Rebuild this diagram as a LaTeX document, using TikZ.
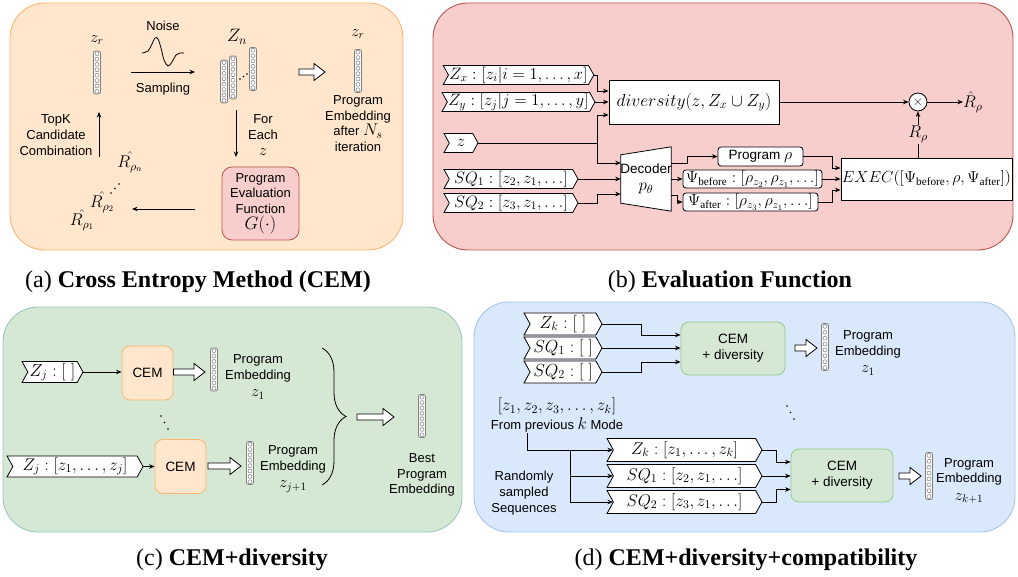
\RequirePackage{fix-cm}
\documentclass[tikz,border=0pt]{standalone}
\usepackage{fontspec}
\setmainfont{Liberation Serif}
\setsansfont{Liberation Sans}
\usetikzlibrary{shapes.symbols,arrows.meta,calc,decorations.pathreplacing}
\definecolor{orF}{HTML}{FFE6CC}
\definecolor{orD}{HTML}{FFB570}
\definecolor{pkF}{HTML}{F8CECC}
\definecolor{pkD}{HTML}{B85450}
\definecolor{gnF}{HTML}{D5E8D4}
\definecolor{gnD}{HTML}{9AC7BF}
\definecolor{gnD2}{HTML}{97C98A}
\definecolor{blF}{HTML}{DAE8FC}
\definecolor{blD}{HTML}{A9C4EB}
\definecolor{vecD}{HTML}{7F7F7F}
\newcommand\harrow[2]{%
 \draw[fill=white, line width=0.8pt] ($(#1)+(0,-3)$) -- ($(#2)+(-11,-3)$) -- ($(#2)+(-11,-8.5)$) -- (#2) -- ($(#2)+(-11,8.5)$) -- ($(#2)+(-11,3)$) -- ($(#1)+(0,3)$) -- cycle;}
\newcommand\fs[1]{\fontsize{#1}{#1}\selectfont}
\begin{document}
\begin{tikzpicture}[x=1pt,y=-1pt,
 vec/.style={draw=vecD, fill=white, rounded corners=2pt, minimum width=7pt, minimum height=#1, inner sep=0pt, line width=0.8pt,
   path picture={\foreach \k in {0,...,7}{\draw[vecD, line width=0.5pt, fill=white] ($(path picture bounding box.north)!{(\k+0.5)/8}!(path picture bounding box.south)$) circle (2.0pt);}}},
 vec/.default=43pt,
 lbl/.style={font=\sffamily\fontsize{13}{15.7}\selectfont, align=center, inner sep=0pt},
 mth/.style={font=\fontsize{16}{16}\selectfont, inner sep=0pt},
 arr/.style={-{Stealth[length=5.5pt,width=4.5pt]}, line width=0.8pt},
 ln/.style={line width=0.8pt},
 tag/.style={signal, signal to=east, signal from=west, signal pointer angle=122, draw, fill=white, line width=0.8pt, inner sep=1pt, minimum height=#1},
 tag/.default=19pt,
 wbox/.style={draw, fill=white, line width=0.8pt, inner sep=2pt},
 cem/.style={draw=orD, fill=orF, rounded corners=8pt, line width=0.8pt, minimum width=51pt, minimum height=54pt, font=\sffamily\fontsize{13.5}{16}\selectfont},
 cemd/.style={draw=gnD2, fill=gnF, rounded corners=8pt, line width=0.8pt, minimum width=104pt, minimum height=53pt, font=\sffamily\fontsize{13.5}{16}\selectfont, align=center},
 panel/.style 2 args={draw=#2, fill=#1, rounded corners=35pt, line width=0.9pt},
 captxt/.style={font=\fontsize{24}{26}\selectfont, inner sep=0pt}
]
\useasboundingbox (0,0) rectangle (1018,577);

% ---------------- panel (a)
\draw[panel={orF}{orD}] (10,3) rectangle (403,250);
\node[vec] (va) at (97,72.5) {};
\node[mth] (zra) at (97,40) {$z_r$};
\node[lbl] (noise) at (163,26) {Noise};
\draw[ln] plot[smooth, tension=0.6] coordinates {(142,53) (148,51) (152,44) (155,38) (158,39) (161,48) (164,60) (168,66) (172,62) (176,55) (180,53) (184,53)};
\coordinate (sA) at (131,72); \coordinate (sB) at (195,72);
\draw[arr] (sA) -- (sB);
\node[lbl] (samp) at (163,89) {Sampling};
\node[mth, font=\fs{18}] (zn) at (237,37) {$Z_n$};
\node[vec] (vn1) at (224,81.5) {};
\node[vec] (vn2) at (233,77.5) {};
\node[vec] (vn3) at (253,69) {};
\fill (240,79) circle (0.8pt) (243.5,76.5) circle (0.8pt) (247,74) circle (0.8pt);
\coordinate (hA) at (299,72); \coordinate (hB) at (325,72);
\harrow{hA}{hB}
\node[vec] (vr) at (358,71) {};
\node[mth] (zrb) at (358,34) {$z_r$};
\node[lbl] (peafter) at (358,123.5) {Program\\Embedding\\after {\fs{17}$N_s$}\\iteration};
\coordinate (fA) at (236,110); \coordinate (fB) at (236,157);
\draw[arr] (fA) -- (fB);
\node[lbl] (foreach) at (263,135) {For\\Each\\{\fs{16}$z$}};
\node[draw=pkD, fill=pkF, rounded corners=10pt, minimum width=77pt, minimum height=73pt, line width=0.8pt, lbl] (pef) at (260.5,203.5) {Program\\Evaluation\\Function\\{\fs{18}$G(\cdot)$}};
\coordinate (rA) at (195,209); \coordinate (rB) at (132,209);
\draw[arr] (rA) -- (rB);
\node[mth, font=\fs{17}] (r1) at (82,220) {$\hat{R_{\rho_1}}$};
\node[mth, font=\fs{17}] (r2) at (102,202) {$\hat{R_{\rho_2}}$};
\node[mth, font=\fs{17}] (rn) at (130,162) {$\hat{R_{\rho_n}}$};
\fill (111,193) circle (0.8pt) (115,188.5) circle (0.8pt) (119,184) circle (0.8pt);
\coordinate (uA) at (99,157); \coordinate (uB) at (99,112);
\draw[arr] (uA) -- (uB);
\node[lbl] (topk) at (56,135) {TopK\\Candidate\\Combination};
\node[captxt] (capa) at (198,282) {(a) \textbf{Cross Entropy Method (CEM)}};

% ---------------- panel (b)
\draw[panel={pkF}{pkD}] (433,3) rectangle (1013,250);
\node[tag, minimum width=149pt, font=\fs{16.5}] (zx) at (518.5,75) {$Z_x : [z_i|i=1,\dots,x]$};
\node[tag, minimum width=149pt, font=\fs{16.5}] (zy) at (518.5,102) {$Z_y : [z_j|j=1,\dots,y]$};
\node[tag, minimum width=34pt, font=\fs{16.5}] (zz) at (461,143) {$z$};
\node[tag, minimum width=134pt, font=\fs{16.5}] (sq1) at (511,179) {$SQ_1 : [z_2,z_1,\dots]$};
\node[tag, minimum width=134pt, font=\fs{16.5}] (sq2) at (511,203) {$SQ_2 : [z_3,z_1,\dots]$};
\node[wbox, minimum width=170pt, minimum height=44pt, font=\fs{17.5}] (div) at (694,102) {$diversity(z, Z_x\cup Z_y)$};
\node[draw, fill=white, circle, line width=0.8pt, minimum size=18pt, inner sep=0pt, font=\fs{13}] (mul) at (918,102) {$\times$};
\node[mth, font=\fs{17}, anchor=west] (rhat) at (963,102) {$\hat{R}_\rho$};
\node[minimum width=50pt, minimum height=64pt, inner sep=0pt] (dec) at (646,179) {};
\draw[ln, fill=white] ($(dec.north west)+(0,8)$) -- (dec.north east) -- (dec.south east) -- ($(dec.south west)+(0,-8)$) -- cycle;
\node[lbl, font=\sffamily\fs{13.5}] (dect) at (dec) {Decoder\\[3pt]{\fs{17}$p_\theta$}};
\node[wbox, rounded corners=3pt, minimum width=85pt, minimum height=19pt, font=\sffamily\fs{13.5}] (prog) at (760.5,156.5) {Program {\fs{16}$\rho$}};
\node[wbox, rounded corners=3pt, minimum width=139pt, minimum height=18pt, inner sep=1pt, font=\fs{16}] (psib) at (752.5,179) {$\Psi_{\mathrm{before}} : [\rho_{z_2},\rho_{z_1},\dots]$};
\node[wbox, rounded corners=3pt, minimum width=135pt, minimum height=18pt, inner sep=1pt, font=\fs{16}] (psia) at (750.5,202) {$\Psi_{\mathrm{after}} : [\rho_{z_3},\rho_{z_1},\dots]$};
\node[wbox, minimum width=169pt, minimum height=42pt, inner sep=1pt, font=\fs{16}] (exec) at (926.5,179) {$EXEC([\Psi_{\mathrm{before}},\rho,\Psi_{\mathrm{after}}])$};
\coordinate (jx) at (597,75);
\coordinate (jz) at (597,143);
\coordinate (js) at (597,203);
\draw[arr] (zx.east) -- (jx) |- ($(div.west)+(0,-11)$);
\draw[arr] (zy.east) -- (div.west);
\draw[ln] (zz.east) -- (jz);
\draw[arr] (jz) |- ($(div.west)+(0,13)$);
\draw[arr] (jz) |- ($(dec.west)+(0,-16)$);
\draw[arr] (sq1.east) -- (sq1.east -| dec.west);
\draw[arr] (sq2.east) -- (js) |- ($(dec.west)+(0,15)$);
\coordinate (d1) at (687,163);
\coordinate (d3) at (677,195);
\draw[arr] ($(dec.east)+(0,-16)$) -- (d1) |- (prog.west);
\draw[arr] (dec.east |- psib.west) -- (psib.west);
\draw[arr] ($(dec.east)+(0,16)$) -- (d3) |- (psia.west);
\coordinate (e1) at (832,156.5);
\coordinate (e3) at (832,202);
\draw[arr] (prog.east) -- (e1) |- ($(exec.west)+(0,-11)$);
\draw[arr] (psib.east) -- (exec.west |- psib.east);
\draw[arr] (psia.east) -- (e3) |- ($(exec.west)+(0,11)$);
\draw[arr] (div.east) -- (mul.west);
\draw[arr] (mul.east) -- (rhat.west);
\draw[arr] (exec.north -| mul.south) -- node[fill=pkF, inner sep=1pt, font=\fs{17}] (rrho) {$R_\rho$} (mul.south);
\node[captxt] (capb) at (730,282) {(b) \textbf{Evaluation Function}};

% ---------------- panel (c)
\draw[panel={gnF}{gnD}] (3,307) rectangle (462,532);
\node[tag, minimum width=61pt, minimum height=21pt, font=\fs{17.5}] (zj1) at (52.5,372) {$Z_j : [\;]$};
\node[cem] (cem1) at (147.5,373) {CEM};
\draw[arr] (zj1.east) -- (cem1.west |- zj1.east);
\coordinate (c1a) at (173.5,372); \coordinate (c1b) at (205,372);
\harrow{c1a}{c1b}
\node[vec] (vc1) at (214,369.5) {};
\node[lbl] (pe1) at (258,377) {Program\\Embedding\\[2pt]{\fs{16}$z_1$}};
\fill (161,416) circle (0.8pt) (164.5,422.5) circle (0.8pt) (168,429) circle (0.8pt);
\node[tag, minimum width=136pt, minimum height=21pt, font=\fs{17}] (zj2) at (75,466.5) {$Z_j : [z_1,\dots,z_j]$};
\node[cem] (cem2) at (180.5,466.5) {CEM};
\draw[arr] (zj2.east) -- (cem2.west |- zj2.east);
\coordinate (c2a) at (208,466); \coordinate (c2b) at (241,466);
\harrow{c2a}{c2b}
\node[vec] (vc2) at (250,463) {};
\node[lbl] (pe2) at (293,469) {Program\\Embedding\\[2pt]{\fs{16}$z_{j+1}$}};
\coordinate (brT) at (322,348); \coordinate (brB) at (322,485);
\draw[ln, decorate, decoration={brace, amplitude=24pt}] (brT) -- (brB);
\coordinate (c3a) at (357,417); \coordinate (c3b) at (394,417);
\harrow{c3a}{c3b}
\node[vec] (vbest) at (422,416) {};
\node[lbl] (best) at (422,475) {Best\\Program\\Embedding};
\node[captxt] (capc) at (232,560) {(c) \textbf{CEM+diversity}};

% ---------------- panel (d)
\draw[panel={blF}{blD}] (474,302) rectangle (1015,532);
\node[tag, minimum width=78pt, minimum height=22pt, font=\fs{17.5}] (zk1) at (563,324) {$Z_k : [\;]$};
\node[tag, minimum width=78pt, minimum height=22pt, font=\fs{17.5}] (sqa1) at (563,348) {$SQ_1 : [\;]$};
\node[tag, minimum width=78pt, minimum height=22pt, font=\fs{17.5}] (sqa2) at (563,372) {$SQ_2 : [\;]$};
\node[cemd] (cd1) at (733,348.5) {CEM\\+ diversity};
\coordinate (k1) at (641,324); \coordinate (k3) at (641,372);
\draw[arr] (zk1.east) -- (k1) |- ($(cd1.west)+(0,-13.5)$);
\draw[arr] (sqa1.east) -- (cd1.west |- sqa1.east);
\draw[arr] (sqa2.east) -- (k3) |- ($(cd1.west)+(0,13.5)$);
\coordinate (d1a) at (795,348); \coordinate (d1b) at (817,348);
\harrow{d1a}{d1b}
\node[vec=47pt] (vd1) at (825,347) {};
\node[lbl] (pd1) at (868,353) {Program\\Embedding\\[2pt]{\fs{16}$z_1$}};
\fill (787,406) circle (0.8pt) (790.5,412.5) circle (0.8pt) (794,419) circle (0.8pt);
\node[lbl, font=\sffamily\fs{13}] (prev) at (557,415) {{\fs{17}$[z_1,z_2,z_3,\dots,z_k]$}\\[2pt]From previous {\fs{17}$k$} Mode};
\node[tag, minimum width=155pt, minimum height=23pt, font=\fs{17}] (zk2) at (684.5,450) {$Z_k : [z_1,\dots,z_k]$};
\node[tag, minimum width=155pt, minimum height=23pt, font=\fs{17}] (sqb1) at (684.5,476) {$SQ_1 : [z_2,z_1,\dots]$};
\node[tag, minimum width=155pt, minimum height=23pt, font=\fs{17}] (sqb2) at (684.5,502) {$SQ_2 : [z_3,z_1,\dots]$};
\coordinate (p0) at (527,433); \coordinate (p1) at (570,450);
\draw[arr] (p0) |- (zk2.west);
\draw[arr] (p1) |- (sqb1.west);
\draw[arr] (p1) |- (sqb2.west);
\node[cemd, minimum width=102pt] (cd2) at (842,475.5) {CEM\\+ diversity};
\coordinate (m1) at (776,450); \coordinate (m3) at (776,502);
\draw[arr] (zk2.east) -- (m1) |- ($(cd2.west)+(0,-13.5)$);
\draw[arr] (sqb1.east) -- (cd2.west |- sqb1.east);
\draw[arr] (sqb2.east) -- (m3) |- ($(cd2.west)+(0,14)$);
\coordinate (d2a) at (899,476); \coordinate (d2b) at (921,476);
\harrow{d2a}{d2b}
\node[vec=47pt] (vd2) at (929,476) {};
\node[lbl] (pd2) at (969,481) {Program\\Embedding\\[2pt]{\fs{16}$z_{k+1}$}};
\node[lbl] (rand) at (524,493) {Randomly\\sampled\\Sequences};
\node[captxt] (capd) at (746,560) {(d) \textbf{CEM+diversity+compatibility}};
\end{tikzpicture}
\end{document}
